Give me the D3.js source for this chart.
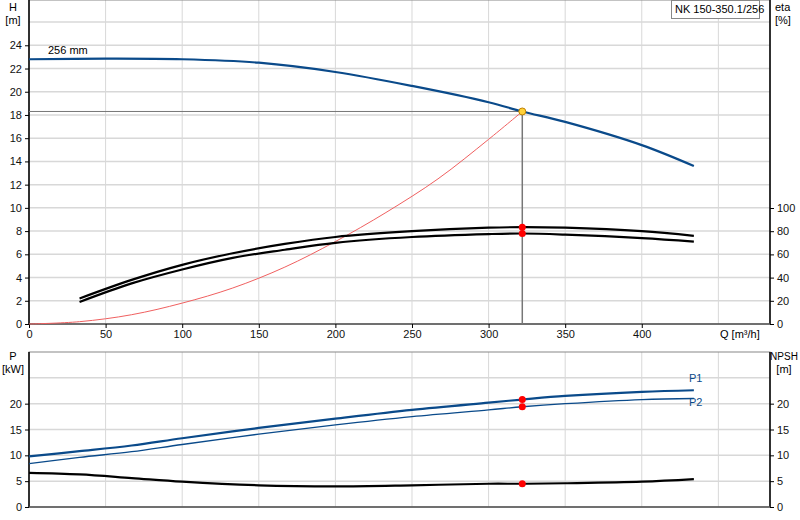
<!DOCTYPE html><html><head><meta charset="utf-8">
<script src="https://cdn.jsdelivr.net/npm/d3@7"></script>
<style>body{margin:0;background:#fff}text{font-family:"Liberation Sans",Arial,sans-serif;font-size:11px;fill:#000}</style>
</head><body><svg id="c" width="800" height="520"></svg><script>
const qH=[0,50,100,150,200,250,300,322,350,400,434];
const H=[22.8,22.85,22.8,22.5,21.7,20.5,19.1,18.3,17.4,15.4,13.6];
const qE=[33,67,100,133,167,200,250,300,322,350,400,434];
const eta1=[22,38,51,61,69,75,80,83,83.5,83,80,76];
const eta2=[19,35,47,57,64,70,75,77.5,78,77,74,71];
const qS=[0,33,67,100,133,167,200,233,267,300,322];
const sys=[0,0.2,0.8,1.8,3.1,4.9,7.1,9.6,12.5,15.9,18.3];
const qP=[0,33,67,100,150,200,250,300,322,350,400,434];
const P1=[9.8,10.8,11.9,13.3,15.3,17.1,18.8,20.2,20.8,21.5,22.3,22.6];
const P2=[8.4,9.6,10.7,12.1,14.1,15.9,17.5,18.8,19.4,20.0,20.8,21.0];
const NPSH=[6.6,6.3,5.6,4.9,4.2,4.0,4.2,4.5,4.5,4.6,4.9,5.4];
const duty={q:322,H:18.3,eta1:83.5,eta2:78,P1:20.8,P2:19.4,NPSH:4.5};
const xTicks=[0,50,100,150,200,250,300,350,400];
const hTicks=[0,2,4,6,8,10,12,14,16,18,20,22,24];
const eTicks=[0,20,40,60,80,100];
const pTicks=[0,5,10,15,20];

const svg=d3.select("#c");
const L=29,R=770;
const x=d3.scaleLinear().domain([0,483.7]).range([L,R]);
const y=d3.scaleLinear().domain([0,27.9]).range([324,0]);
const ye=d3.scaleLinear().domain([0,100]).range([324,208]);
const yp=d3.scaleLinear().domain([0,30]).range([507,352]);
const grid="#d8d8d8";
function panel(ys,y1,hLines){
  const g=svg.append("g");
  g.selectAll(".v").data(d3.range(50,483,50)).join("line").attr("x1",d=>x(d)).attr("x2",d=>x(d)).attr("y1",ys(y1)).attr("y2",ys(0)).attr("stroke",grid);
  g.selectAll(".h").data(hLines).join("line").attr("x1",L).attr("x2",R).attr("y1",d=>ys(d)).attr("y2",d=>ys(d)).attr("stroke",grid).attr("stroke-width",1.5);
  g.append("rect").attr("x",L).attr("y",ys(y1)).attr("width",R-L).attr("height",ys(0)-ys(y1)).attr("fill","none").attr("stroke","#888");
  g.append("line").attr("x1",L).attr("x2",L).attr("y1",ys(y1)).attr("y2",ys(0)).attr("stroke","#000").attr("stroke-width",1.5);
  g.append("line").attr("x1",R).attr("x2",R).attr("y1",ys(y1)).attr("y2",ys(0)).attr("stroke","#000").attr("stroke-width",1.5);
  g.append("line").attr("x1",L).attr("x2",R).attr("y1",ys(0)).attr("y2",ys(0)).attr("stroke","#555").attr("stroke-width",1.5);
}
panel(y,27.9,d3.range(2,27,2));
panel(yp,30,[5,10,15,20,25]);
const ax=svg.append("g").attr("transform","translate(0,324)").call(d3.axisBottom(x).tickValues(xTicks).tickSize(4).tickPadding(2));
ax.select(".domain").remove();
svg.append("g").attr("transform",`translate(${L},0)`).call(d3.axisLeft(y).tickValues(hTicks).tickSize(4).tickPadding(3)).select(".domain").remove();
svg.append("g").attr("transform",`translate(${R},0)`).call(d3.axisRight(ye).tickValues(eTicks).tickSize(4).tickPadding(3)).select(".domain").remove();
svg.append("g").attr("transform",`translate(${L},0)`).call(d3.axisLeft(yp).tickValues(pTicks).tickSize(4).tickPadding(3)).select(".domain").remove();
svg.append("g").attr("transform",`translate(${R},0)`).call(d3.axisRight(yp).tickValues(pTicks).tickSize(4).tickPadding(3)).select(".domain").remove();
svg.selectAll(".tick text").style("font-size","11px").style("fill","#111");
function t(s,X,Y,a,c){svg.append("text").attr("x",X).attr("y",Y).attr("text-anchor",a||"start").style("fill",c||"#000").text(s);}
t("H",13,11,"middle");t("[m]",13,24,"middle");
t("eta",775,11);t("[%]",775,24);
t("Q [m³/h]",720,338);
t("P",13,360,"middle");t("[kW]",13,373,"middle");
svg.append("text").attr("x",784).attr("y",360).attr("text-anchor","middle").style("font-size","10px").text("NPSH");
t("[m]",784,373,"middle");
t("256 mm",48,54);
t("P1",689,382,"start","#0a4a8a");t("P2",689,406,"start","#0a4a8a");
svg.append("rect").attr("x",671.5).attr("y",0.5).attr("width",88).attr("height",18).attr("fill","#fff").attr("stroke","#888");
t("NK 150-350.1/256",675,13);
svg.append("line").attr("x1",L).attr("x2",x(duty.q)).attr("y1",y(duty.H)).attr("y2",y(duty.H)).attr("stroke","#777");
svg.append("line").attr("x1",x(duty.q)).attr("x2",x(duty.q)).attr("y1",y(duty.H)).attr("y2",y(0)).attr("stroke","#777").attr("stroke-width",1.5);
function curve(qs,vs,ys,col,w){svg.append("path").attr("d",d3.line().curve(d3.curveCatmullRom).x((d,i)=>x(qs[i])).y(d=>ys(d))(vs)).attr("fill","none").attr("stroke",col).attr("stroke-width",w);}
curve(qS,sys,y,"#f06060",1);
curve(qH,H,y,"#0a4a8a",2.2);
curve(qE,eta1,ye,"#000",2.2);
curve(qE,eta2,ye,"#000",2.2);
curve(qP,P1,yp,"#0a4a8a",2.2);
curve(qP,P2,yp,"#0a4a8a",1.3);
curve(qP,NPSH,yp,"#000",2.2);
function dot(X,Y,c){svg.append("circle").attr("cx",X).attr("cy",Y).attr("r",3.5).attr("fill",c).attr("stroke",c==="#ffd23a"?"#c08000":"none");}
dot(x(duty.q),ye(duty.eta1),"#f00");dot(x(duty.q),ye(duty.eta2),"#f00");
dot(x(duty.q),yp(duty.P1),"#f00");dot(x(duty.q),yp(duty.P2),"#f00");dot(x(duty.q),yp(duty.NPSH),"#f00");
dot(x(duty.q),y(duty.H),"#ffd23a");
</script></body></html>
